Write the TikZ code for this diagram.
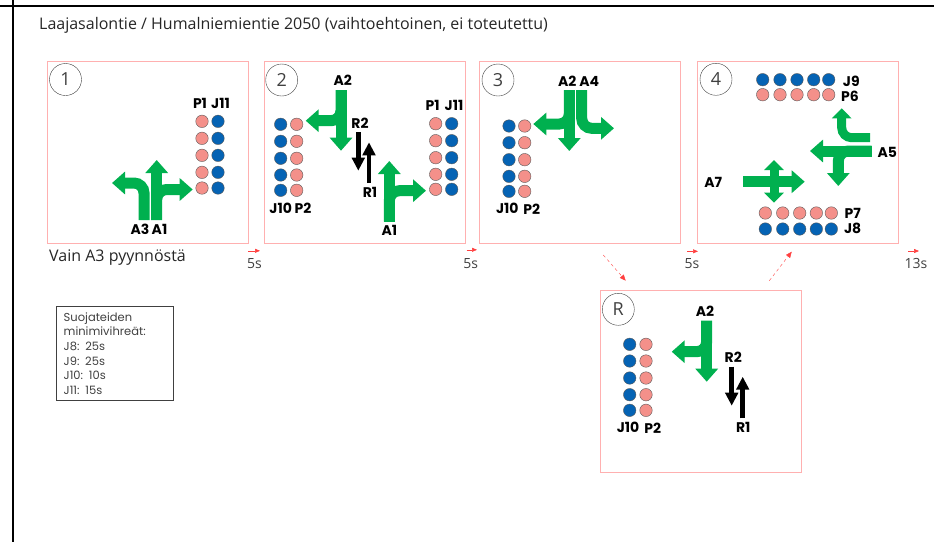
\documentclass[tikz,border=0pt]{standalone}
\usepackage{fontspec}
\setmainfont{Open Sans}
\newfontfamily\labelfont{Poppins}
\usetikzlibrary{arrows.meta}
\definecolor{flowgreen}{HTML}{00B04F}
\definecolor{dotblue}{HTML}{0563B4}
\definecolor{dotpink}{HTML}{F4908A}
\definecolor{panelred}{HTML}{FFB0B0}
\definecolor{timered}{HTML}{FF4040}
\definecolor{textgrey}{HTML}{404040}
\tikzset{
  panel/.style ={draw=panelred, line width=1pt, inner sep = 0pt, minimum width=201pt, minimum height=182pt},
  phase/.style ={circle, draw=textgrey, inner sep = 0pt, minimum size=32pt, text=textgrey, font=\fontsize{18}{18}\selectfont},
  signal/.style ={font=\labelfont\bfseries\fontsize{14}{14}\selectfont, inner sep = 0pt},
  pinkdot/.style ={circle, draw=black!65, fill=dotpink, inner sep = 0pt, minimum size=12.5pt},
  bluedot/.style ={circle, draw=black!65, fill=dotblue, inner sep = 0pt, minimum size=12.5pt},
  plain/.style ={inner sep = 0pt, text=textgrey, font=\fontsize{14}{14}\selectfont},
  wide/.style ={inner sep = 0pt, text=black!85, font=\fontsize{16}{16}\selectfont},
  flow/.style ={draw=flowgreen, line width=11pt, rounded corners=10pt, -{Triangle[width=22pt,length=13pt]}},
  thinflow/.style ={draw=flowgreen, line width=9pt, rounded corners=10pt, -{Triangle[width=19pt,length=10pt]}},
  ped/.style ={draw=black, line width=4.5pt, -{Triangle[width=12.5pt,length=13pt]}},
  timer/.style ={draw=timered, line width=0.5pt, -{Triangle[width=4pt,length=5pt]}},
  jump/.style ={draw=timered, line width=0.4pt, dashed, -{Triangle[width=5pt,length=6pt]}}
}
\begin{document}
\begin{tikzpicture}[x=1pt, y=-1pt]
   \useasboundingbox (0,0) rectangle (934,542);
   \coordinate (topL) at (0,5.5);
   \coordinate (topR) at (934,5.5);
   \coordinate (sideT) at (13,0);
   \coordinate (sideB) at (13,542);
   \draw[line width=2pt] (topL) -- (topR);
   \draw[line width=2pt] (sideT) -- (sideB);

   \node[wide, anchor=west] (title) at (39,25) {Laajasalontie / Humalniemientie 2050 (vaihtoehtoinen, ei toteutettu)};

   % panels
   \node[panel] (P1) at (148,152)  {};
   \node[panel] (P2) at (364.5,152)  {};
   \node[panel] (P3) at (580,152)  {};
   \node[panel] (P4) at (798.3,152)  {};
   \node[panel] (PR) at (700.5,381.7)  {};
   \node[phase] (C1) at (65.5,79.5) {1};
   \node[phase] (C2) at (281.7,80) {2};
   \node[phase] (C3) at (498,80) {3};
   \node[phase] (C4) at (716,79.3) {4};
   \node[phase] (CR) at (618.3,309.3) {R};

   % panel 1
   \coordinate (a1s) at (156.7,220);
   \coordinate (a1t) at (156.7,160);
   \coordinate (a1r) at (192.7,189.5);
   \coordinate (a3s) at (144,220);
   \coordinate (a3l) at (112,183);
   \draw[flow] (a1s) -- (a1t);
   \draw[flow] (a1s) |- (a1r);
   \draw[flow] (a3s) |- (a3l);
   \node[signal] (l1A3) at (140,229) {A3};
   \node[signal] (l1A1) at (159.5,229) {A1};
   \node[signal] (l1P1) at (200,103) {P1};
   \node[signal] (l1J11) at (220.5,103) {J11};
   \foreach \ypos [count=\i] in {121.3,138.3,155.3,172.3,188} {
     \node[pinkdot] (d1p\i) at (202,\ypos) {};
     \node[bluedot] (d1j\i) at (218,\ypos) {};
   }

   % panel 2
   \coordinate (a2s) at (341,90);
   \coordinate (a2b) at (341,150.7);
   \coordinate (a2l) at (305.7,120.7);
   \coordinate (b1s) at (389.3,221.7);
   \coordinate (b1t) at (389.3,161);
   \coordinate (b1r) at (426,190.7);
   \coordinate (r2s) at (358.3,132);
   \coordinate (r2e) at (358.3,170.7);
   \coordinate (r1s) at (369,183);
   \coordinate (r1e) at (369,142.3);
   \draw[flow] (a2s) -- (a2b);
   \draw[flow] (a2s) |- (a2l);
   \draw[flow] (b1s) -- (b1t);
   \draw[flow] (b1s) |- (b1r);
   \draw[ped] (r2s) -- (r2e);
   \draw[ped] (r1s) -- (r1e);
   \node[signal] (l2A2) at (342.7,80) {A2};
   \node[signal] (l2R2) at (360,123.3) {R2};
   \node[signal] (l2R1) at (370,192.3) {R1};
   \node[signal] (l2A1) at (389.3,230.7) {A1};
   \node[signal] (l2J10) at (280.7,208.3) {J10};
   \node[signal] (l2P2) at (303,208.3) {P2};
   \node[signal] (l2P1) at (432.7,105) {P1};
   \node[signal] (l2J11) at (454,105) {J11};
   \foreach \ypos [count=\i] in {124.3,141.3,158.3,175,190.3} {
     \node[bluedot] (d2j\i) at (280.7,\ypos) {};
     \node[pinkdot] (d2p\i) at (296.7,\ypos) {};
   }
   \foreach \ypos [count=\i] in {123.7,140.7,157.7,174.3,189.3} {
     \node[pinkdot] (e2p\i) at (435.7,\ypos) {};
     \node[bluedot] (e2j\i) at (451.7,\ypos) {};
   }

   % panel 3
   \coordinate (c2s) at (569.3,90);
   \coordinate (c2b) at (569.3,151);
   \coordinate (c2l) at (533.3,124);
   \coordinate (c4s) at (581.7,90);
   \coordinate (c4r) at (614,128.3);
   \draw[flow] (c2s) -- (c2b);
   \draw[flow] (c2s) |- (c2l);
   \draw[flow] (c4s) |- (c4r);
   \node[signal] (l3A2) at (567.3,81.7) {A2};
   \node[signal] (l3A4) at (589.3,81.7) {A4};
   \node[signal] (l3J10) at (507.3,208.3) {J10};
   \node[signal] (l3P2) at (531.7,209.3) {P2};
   \foreach \ypos [count=\i] in {126,142.7,159.7,176.3,191.3} {
     \node[bluedot] (d3j\i) at (509,\ypos) {};
     \node[pinkdot] (d3p\i) at (524.7,\ypos) {};
   }

   % panel 4
   \coordinate (u5s) at (870,137.7);
   \coordinate (u5t) at (841.7,108.3);
   \coordinate (a5s) at (871.7,151);
   \coordinate (a5l) at (810,151);
   \coordinate (a5b) at (838.3,186);
   \coordinate (a7s) at (743.3,181.7);
   \coordinate (a7r) at (804.7,181.7);
   \coordinate (a7c) at (774,181.7);
   \coordinate (a7t) at (774,160);
   \coordinate (a7b) at (774,202.7);
   \draw[thinflow] (u5s) -| (u5t);
   \draw[flow] (a5s) -- (a5l);
   \draw[flow] (a5s) -| (a5b);
   \draw[flow] (a7s) -- (a7r);
   \draw[thinflow] (a7c) -- (a7t);
   \draw[thinflow] (a7c) -- (a7b);
   \node[signal] (l4A5) at (887.3,152.3) {A5};
   \node[signal] (l4A7) at (713.3,182.7) {A7};
   \node[signal] (l4J9) at (851.3,81.3) {J9};
   \node[signal] (l4P6) at (850,96.7) {P6};
   \node[signal] (l4P7) at (852.7,213.3) {P7};
   \node[signal] (l4J8) at (852.7,228.7) {J8};
   \foreach \xpos [count=\i] in {762.7,780,797,813.7,828.7} {
     \node[bluedot] (d4j\i) at (\xpos,79.7) {};
     \node[pinkdot] (d4p\i) at (\xpos,94.7) {};
   }
   \foreach \xpos [count=\i] in {765.3,782.7,799.7,816.3,831.3} {
     \node[pinkdot] (e4p\i) at (\xpos,213) {};
     \node[bluedot] (e4j\i) at (\xpos,229) {};
   }

   % panel R
   \coordinate (f2s) at (706.7,320.7);
   \coordinate (f2b) at (706.7,381.7);
   \coordinate (f2l) at (671.7,351.7);
   \coordinate (s2s) at (731.7,366.7);
   \coordinate (s2e) at (731.7,405.7);
   \coordinate (s1s) at (742.7,418.3);
   \coordinate (s1e) at (742.7,376.7);
   \draw[flow] (f2s) -- (f2b);
   \draw[flow] (f2s) |- (f2l);
   \draw[ped] (s2s) -- (s2e);
   \draw[ped] (s1s) -- (s1e);
   \node[signal] (lRA2) at (705,311.7) {A2};
   \node[signal] (lRR2) at (733.3,357.3) {R2};
   \node[signal] (lRR1) at (743.3,427.7) {R1};
   \node[signal] (lRJ10) at (628,427.3) {J10};
   \node[signal] (lRP2) at (652.7,428.3) {P2};
   \foreach \ypos [count=\i] in {344.3,361,378,394.7,410.3} {
     \node[bluedot] (dRj\i) at (629.7,\ypos) {};
     \node[pinkdot] (dRp\i) at (646,\ypos) {};
   }

   % timings
   \node[wide, anchor=west] (note) at (49,258) {Vain A3 pyynnöstä};
   \node[plain] (t1) at (254.5,263.5) {5s};
   \node[plain] (t2) at (470.7,263.5) {5s};
   \node[plain] (t3) at (692,263.5) {5s};
   \node[plain] (t4) at (916,263.5) {13s};
   \coordinate (t1a) at (248,250.8);
   \coordinate (t1b) at (260,250.8);
   \coordinate (t2a) at (466.7,249.8);
   \coordinate (t2b) at (477,249.8);
   \coordinate (t3a) at (687.3,251.3);
   \coordinate (t3b) at (698,251.3);
   \coordinate (t4a) at (908,251);
   \coordinate (t4b) at (919,251);
   \coordinate (j1a) at (603.3,255);
   \coordinate (j1b) at (625.7,280.7);
   \coordinate (j2a) at (769.3,280.7);
   \coordinate (j2b) at (791.7,251.7);
   \draw[timer] (t1a) -- (t1b);
   \draw[timer] (t2a) -- (t2b);
   \draw[timer] (t3a) -- (t3b);
   \draw[timer] (t4a) -- (t4b);
   \draw[jump] (j1a) -- (j1b);
   \draw[jump] (j2a) -- (j2b);

   % crossing minimums
   \node[draw=textgrey, line width=1pt, anchor=north west, align=left, inner xsep=7.5pt, inner ysep=6pt, text=textgrey,
         text width=102.5pt, font=\labelfont\fontsize{11.5}{14.6}\selectfont] (limits) at (55.7,306)
     {Suojateiden\\minimivihreät:\\J8: 25s\\J9: 25s\\J10: 10s\\J11: 15s};
\end{tikzpicture}
\end{document}
